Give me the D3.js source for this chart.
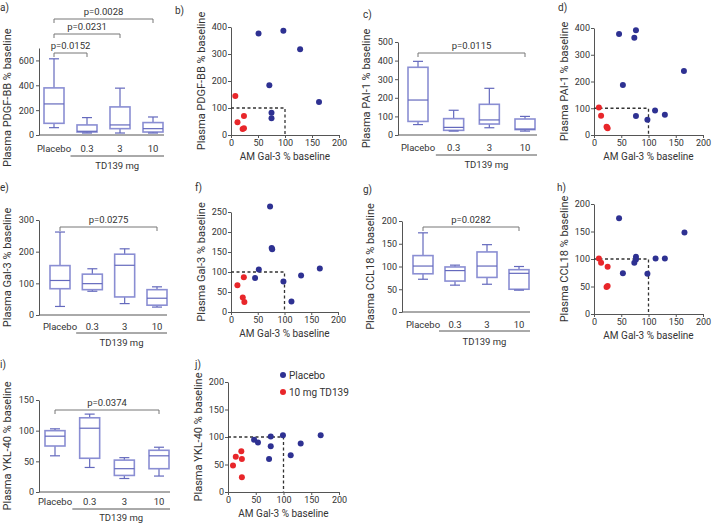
<!DOCTYPE html>
<html>
<head>
<meta charset="utf-8">
<script src="https://cdn.jsdelivr.net/npm/d3@7"></script>
<style>
  body { margin: 0; background: #fff; }
  text { font-family: Roboto, "Liberation Sans", sans-serif; fill: #333; }
  .tick text { font-size: 9px; }
  .domain, .tick line { stroke: #555; }
</style>
</head>
<body>
<div id="chart"></div>
<script>
const width = 713
const height = 525

// categorias de los boxplots
const groups = ["Placebo", "0.3", "3", "10"]

// [min, q1, mediana, q3, max] por grupo
const pdgfBox = [[59, 94, 250, 379, 613], [16, 24, 30, 81, 140], [16, 51, 81, 226, 377], [16, 24, 51, 100, 145]]
const pai1Box = [[56, 73, 188, 364, 396], [21, 25, 41, 88, 133], [39, 59, 81, 165, 251], [21, 29, 32, 86, 100]]
const gal3Box = [[27, 83, 109, 156, 262], [75, 80, 99, 129, 146], [36, 57, 157, 192, 209], [25, 31, 53, 80, 89]]
const ccl18Box = [[72, 84, 101, 124, 174], [59, 68, 91, 99, 103], [61, 76, 101, 132, 148], [48, 50, 85, 93, 100]]
const ykl40Box = [[59, 75, 91, 100, 103], [40, 55, 104, 121, 127], [22, 27, 38, 52, 56], [26, 38, 59, 68, 73]]

// dispersion: [AM Gal-3 %, plasma %]
const pdgfPlacebo = [[51, 376], [97, 386], [128, 318], [71, 184], [163, 122], [75, 82], [75, 62]]
const pdgfTD139 = [[8, 144], [12, 47], [24, 70], [21.5, 22], [24, 25]]
const pai1Placebo = [[46, 378], [74, 364], [77, 392], [53, 187], [165, 239], [112, 92], [130, 76], [77, 71], [98, 57]]
const pai1TD139 = [[9, 103], [13, 72], [23, 31], [25, 25], [24, 28]]
const gal3Placebo = [[73, 264], [76, 160], [77, 157], [52, 106], [45, 85], [98, 76], [113, 26], [131, 91], [166, 109]]
const gal3TD139 = [[12, 67], [24, 87], [22, 36], [25, 25]]
const ccl18Placebo = [[46, 174], [166, 148], [77, 104], [77, 99], [74, 93], [113, 101], [130, 101], [53, 74], [98, 73]]
const ccl18TD139 = [[9, 101], [13, 93], [25, 86], [23, 49], [25, 51]]
const ykl40Placebo = [[47, 95], [54, 90], [77, 101], [77, 83], [74, 60], [99, 103], [113, 67], [131, 88], [167, 103]]
const ykl40TD139 = [[9, 48], [14, 64], [24, 74], [25, 60], [25, 27]]

const xTicks = [0, 50, 100, 150, 200]

const boxColor = "#6469bd"
const blue = "#2e3192"
const red = "#e8262a"

const svg = d3.select("div#chart")
    .append("svg")
    .attr("width", width)
    .attr("height", height)

function tag(t, x, y) {
    svg.append("text").attr("x", x).attr("y", y).attr("font-size", 10).text(t)
}

function yTitle(t, x, yc) {
    svg.append("text")
        .attr("transform", `translate(${x},${yc}) rotate(-90)`)
        .attr("text-anchor", "middle")
        .attr("font-size", 11)
        .text(t)
}

function boxPanel(o) {
    const y = d3.scaleLinear().domain([0, o.yMax]).range([o.y0, o.yTop])
    const x = d3.scalePoint().domain(groups).range([o.xFirst, o.xLast])
    const off = o.off || [16, 20, 33]
    const g = svg.append("g")

    g.append("g").attr("transform", `translate(${o.axisX},0)`)
        .call(d3.axisLeft(y).tickValues(o.ticks).tickSize(3).tickPadding(2).tickSizeOuter(0))

    g.append("line")
        .attr("x1", o.axisX).attr("x2", o.axisEnd)
        .attr("y1", o.y0).attr("y2", o.y0)
        .attr("stroke", "#555")

    g.selectAll("text.cat").data(groups).join("text")
        .attr("class", "cat")
        .attr("x", d => x(d)).attr("y", o.y0 + off[0])
        .attr("text-anchor", "middle").attr("font-size", 9.5)
        .text(d => d)

    const mid = (x(groups[0]) + x(groups[1])) / 2
    g.append("line")
        .attr("x1", mid).attr("x2", o.axisEnd)
        .attr("y1", o.y0 + off[1]).attr("y2", o.y0 + off[1])
        .attr("stroke", "#555")
    g.append("text")
        .attr("x", (mid + o.axisEnd) / 2).attr("y", o.y0 + off[2])
        .attr("text-anchor", "middle").attr("font-size", 9.5)
        .text("TD139 mg")

    const bw = 20
    const boxes = g.selectAll("g.box").data(o.data).join("g")
        .attr("class", "box")
        .attr("transform", (d, i) => `translate(${x(groups[i])},0)`)
    boxes.append("line")
        .attr("x1", 0).attr("x2", 0)
        .attr("y1", d => y(d[0])).attr("y2", d => y(d[4]))
        .attr("stroke", boxColor).attr("stroke-width", 1.2)
    boxes.append("rect")
        .attr("x", -bw / 2).attr("width", bw)
        .attr("y", d => y(d[3])).attr("height", d => y(d[1]) - y(d[3]))
        .attr("fill", "#fff").attr("stroke", "#8a8ed3").attr("stroke-width", 1.6)
    boxes.append("line")
        .attr("x1", -bw / 2).attr("x2", bw / 2)
        .attr("y1", d => y(d[2])).attr("y2", d => y(d[2]))
        .attr("stroke", boxColor).attr("stroke-width", 1.2)
    boxes.selectAll("line.cap").data(d => [d[0], d[4]]).join("line")
        .attr("class", "cap")
        .attr("x1", -5).attr("x2", 5)
        .attr("y1", d => y(d)).attr("y2", d => y(d))
        .attr("stroke", boxColor).attr("stroke-width", 1.2)

    o.pvals.forEach(p => {
        const x1 = x(groups[p.from]), x2 = x(groups[p.to])
        g.append("path")
            .attr("d", `M${x1},${p.y + 4}V${p.y}H${x2}V${p.y + 4}`)
            .attr("fill", "none").attr("stroke", "#777")
        g.append("text")
            .attr("x", (x1 + x2) / 2).attr("y", p.y - 4)
            .attr("text-anchor", "middle").attr("font-size", 9.5)
            .text(p.text)
    })

    yTitle(o.title, o.axisX - 28, (y(0) + y(o.ticks[o.ticks.length - 1])) / 2)
    tag(o.tag, o.tagX, o.tagY)
}

function scatterPanel(o) {
    const x = d3.scaleLinear().domain([0, 200]).range([o.x0, o.x1])
    const y = d3.scaleLinear().domain([0, o.yMax]).range([o.y0, o.yTop])
    const g = svg.append("g")

    g.append("g").attr("transform", `translate(0,${o.y0})`)
        .call(d3.axisBottom(x).tickValues(xTicks).tickSize(3).tickPadding(2).tickSizeOuter(0))
    g.append("g").attr("transform", `translate(${o.x0},0)`)
        .call(d3.axisLeft(y).tickValues(o.ticks).tickSize(3).tickPadding(1).tickSizeOuter(0))

    g.append("path")
        .attr("d", `M${x(0)},${y(100)}H${x(100)}V${y(0)}`)
        .attr("fill", "none").attr("stroke", "#333")
        .attr("stroke-width", 1.3).attr("stroke-dasharray", "3,2.5")

    g.selectAll("circle.pl").data(o.placebo).join("circle")
        .attr("class", "pl")
        .attr("cx", d => x(d[0])).attr("cy", d => y(d[1])).attr("r", 3)
        .attr("fill", blue)
    g.selectAll("circle.td").data(o.td139).join("circle")
        .attr("class", "td")
        .attr("cx", d => x(d[0])).attr("cy", d => y(d[1])).attr("r", 3)
        .attr("fill", red)

    g.append("text")
        .attr("x", (o.x0 + o.x1) / 2).attr("y", o.y0 + 25)
        .attr("text-anchor", "middle").attr("font-size", 10)
        .text("AM Gal-3 % baseline")

    yTitle(o.title, o.x0 - 26, (o.y0 + y(o.ticks[o.ticks.length - 1])) / 2)
    tag(o.tag, o.tagX, o.tagY)
}

boxPanel({
    tag: "a)", tagX: 0, tagY: 11, title: "Plasma PDGF-BB % baseline",
    data: pdgfBox, yMax: 700, ticks: [0, 200, 400, 600],
    axisX: 39, y0: 135, yTop: 48, xFirst: 54, xLast: 153, axisEnd: 164,
    off: [17, 21, 34],
    pvals: [{ from: 0, to: 1, y: 53, text: "p=0.0152" },
            { from: 0, to: 2, y: 34, text: "p=0.0231" },
            { from: 0, to: 3, y: 19, text: "p=0.0028" }]
})

scatterPanel({
    tag: "b)", tagX: 175, tagY: 14, title: "Plasma PDGF-BB % baseline",
    placebo: pdgfPlacebo, td139: pdgfTD139, yMax: 400, ticks: [0, 100, 200, 300, 400],
    x0: 231, x1: 339, y0: 135, yTop: 27
})

boxPanel({
    tag: "c)", tagX: 363, tagY: 18, title: "Plasma PAI-1 % baseline",
    data: pai1Box, yMax: 500, ticks: [0, 100, 200, 300, 400, 500],
    axisX: 398, y0: 135, yTop: 42, xFirst: 418, xLast: 525, axisEnd: 537,
    pvals: [{ from: 0, to: 3, y: 53, text: "p=0.0115" }]
})

scatterPanel({
    tag: "d)", tagX: 558, tagY: 11, title: "Plasma PAI-1 % baseline",
    placebo: pai1Placebo, td139: pai1TD139, yMax: 400, ticks: [0, 100, 200, 300, 400],
    x0: 594, x1: 703, y0: 135, yTop: 28
})

boxPanel({
    tag: "e)", tagX: 0, tagY: 191, title: "Plasma Gal-3 % baseline",
    data: gal3Box, yMax: 300, ticks: [0, 100, 200, 300],
    axisX: 39, y0: 315, yTop: 220, xFirst: 60, xLast: 157, axisEnd: 167,
    off: [15, 18, 31],
    pvals: [{ from: 0, to: 3, y: 227, text: "p=0.0275" }]
})

scatterPanel({
    tag: "f)", tagX: 195, tagY: 191, title: "Plasma Gal-3 % baseline",
    placebo: gal3Placebo, td139: gal3TD139, yMax: 250, ticks: [0, 50, 100, 150, 200, 250],
    x0: 231, x1: 338, y0: 312, yTop: 212
})

boxPanel({
    tag: "g)", tagX: 363, tagY: 193, title: "Plasma CCL18 % baseline",
    data: ccl18Box, yMax: 200, ticks: [0, 50, 100, 150, 200],
    axisX: 402, y0: 312, yTop: 221, xFirst: 423, xLast: 519, axisEnd: 530,
    off: [16, 19, 33],
    pvals: [{ from: 0, to: 3, y: 227, text: "p=0.0282" }]
})

scatterPanel({
    tag: "h)", tagX: 557, tagY: 191, title: "Plasma CCL18 % baseline",
    placebo: ccl18Placebo, td139: ccl18TD139, yMax: 200, ticks: [0, 50, 100, 150, 200],
    x0: 594, x1: 703, y0: 314, yTop: 204
})

boxPanel({
    tag: "i)", tagX: 0, tagY: 368, title: "Plasma YKL-40 % baseline",
    data: ykl40Box, yMax: 150, ticks: [0, 50, 100, 150],
    axisX: 39, y0: 492, yTop: 400, xFirst: 55, xLast: 159, axisEnd: 170,
    off: [13, 17, 29],
    pvals: [{ from: 0, to: 3, y: 410, text: "p=0.0374" }]
})

scatterPanel({
    tag: "j)", tagX: 195, tagY: 368, title: "Plasma YKL-40 % baseline",
    placebo: ykl40Placebo, td139: ykl40TD139, yMax: 200, ticks: [0, 50, 100, 150, 200],
    x0: 228, x1: 339, y0: 492, yTop: 382
})

// leyenda
const legend = svg.append("g").attr("transform", "translate(283,375)")
legend.selectAll("g").data([["Placebo", blue], ["10 mg TD139", red]]).join("g")
    .attr("transform", (d, i) => `translate(0,${i * 17})`)
    .call(gr => {
        gr.append("circle").attr("r", 3).attr("fill", d => d[1])
        gr.append("text").attr("x", 6).attr("y", 4).attr("font-size", 10).text(d => d[0])
    })
</script>
</body>
</html>
